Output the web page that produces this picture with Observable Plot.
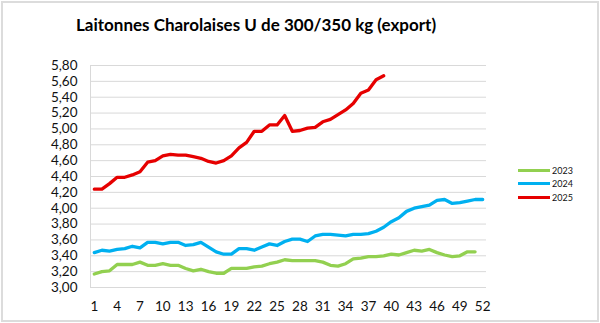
<!DOCTYPE html>
<html>
<head>
<meta charset="utf-8">
<script src="https://cdn.jsdelivr.net/npm/d3@7"></script>
<script src="https://cdn.jsdelivr.net/npm/@observablehq/plot@0.6"></script>
<style>
  html, body { margin: 0; padding: 0; background: #fff; }
  #wrap { position: relative; width: 600px; height: 323px; overflow: hidden; font-family: Lato, "Open Sans", sans-serif; }
  #frame { position: absolute; left: 1px; top: 1px; width: 594px; height: 317px; border: 2px solid #dcdcdc; pointer-events: none; }
  #title { position: absolute; left: 76px; top: 14px; font-size: 17px; font-weight: bold; color: #000; white-space: nowrap; }
  #legend { position: absolute; left: 518px; top: 164px; font-size: 9px; color: #111; }
  .item { display: flex; align-items: center; height: 13.3px; }
  .sw { width: 32px; height: 3px; margin-right: 2px; }
  svg { position: absolute; left: 0; top: 0; }
</style>
</head>
<body>
<div id="wrap">
  <div id="title">Laitonnes Charolaises U de 300/350 kg (export)</div>
  <div id="legend"></div>
  <div id="frame"></div>
</div>
<script>
const titleText = "Laitonnes Charolaises U de 300/350 kg (export)";
const seriesNames = ["2023", "2024", "2025"];
const seriesColors = ["#92d050", "#00b0f0", "#e60000"];
const xTicks = [1, 4, 7, 10, 13, 16, 19, 22, 25, 28, 31, 34, 37, 40, 43, 46, 49, 52];
const yTicks = [3.0, 3.2, 3.4, 3.6, 3.8, 4.0, 4.2, 4.4, 4.6, 4.8, 5.0, 5.2, 5.4, 5.6, 5.8];

const values2023 = [3.17, 3.20, 3.21, 3.29, 3.29, 3.29, 3.32, 3.28, 3.28, 3.30,
  3.28, 3.28, 3.24, 3.21, 3.23, 3.20, 3.18, 3.18, 3.24, 3.24,
  3.24, 3.26, 3.27, 3.30, 3.32, 3.35, 3.34, 3.34, 3.34, 3.34,
  3.32, 3.28, 3.27, 3.30, 3.36, 3.37, 3.39, 3.39, 3.40, 3.42,
  3.41, 3.44, 3.47, 3.46, 3.48, 3.44, 3.41, 3.39, 3.40, 3.45, 3.45];
const values2024 = [3.44, 3.47, 3.46, 3.48, 3.49, 3.52, 3.50, 3.57, 3.57, 3.55,
  3.57, 3.57, 3.53, 3.54, 3.57, 3.51, 3.45, 3.42, 3.42, 3.49,
  3.49, 3.47, 3.51, 3.55, 3.53, 3.58, 3.61, 3.61, 3.58, 3.65,
  3.67, 3.67, 3.66, 3.65, 3.67, 3.67, 3.68, 3.71, 3.76, 3.83,
  3.88, 3.96, 4.00, 4.02, 4.04, 4.10, 4.11, 4.06, 4.07, 4.09, 4.11, 4.11];
const values2025 = [4.24, 4.24, 4.31, 4.39, 4.39, 4.42, 4.46, 4.58, 4.60, 4.66,
  4.68, 4.67, 4.67, 4.65, 4.63, 4.59, 4.57, 4.60, 4.66, 4.76,
  4.83, 4.97, 4.97, 5.05, 5.05, 5.17, 4.97, 4.98, 5.01, 5.02,
  5.09, 5.12, 5.18, 5.24, 5.32, 5.45, 5.49, 5.62, 5.67];

const allValues = [values2023, values2024, values2025];
const rows = [];
allValues.forEach((vals, i) => vals.forEach((v, j) => rows.push({week: j + 1, value: v, series: seriesNames[i]})));

const fmt = d => d.toFixed(2).replace(".", ",");

const chart = Plot.plot({
  width: 600,
  height: 323,
  marginLeft: 90,
  marginRight: 114,
  marginTop: 65,
  marginBottom: 36,
  style: {fontFamily: "Lato, 'Open Sans', sans-serif", fontSize: "13.5px", color: "#111", background: "transparent"},
  x: {domain: [0.5, 52.5], ticks: xTicks, tickSize: 0, tickPadding: 14, tickFormat: d => String(d), label: null},
  y: {domain: [3, 5.8], ticks: yTicks, tickSize: 0, tickPadding: 13, tickFormat: fmt, label: null},
  color: {domain: seriesNames, range: seriesColors},
  marks: [
    Plot.gridY(yTicks, {stroke: "#d9d9d9", strokeOpacity: 1, strokeWidth: 1}),
    Plot.ruleX([0.5], {stroke: "#d9d9d9", strokeWidth: 1}),
    Plot.axisX({ticks: xTicks, tickSize: 0, tickPadding: 14, tickFormat: d => String(d), label: null, fontSize: 13.5}),
    Plot.axisY({ticks: yTicks, tickSize: 0, tickPadding: 13, tickFormat: fmt, label: null, fontSize: 13.5}),
    Plot.line(rows, {x: "week", y: "value", z: "series", stroke: "series", strokeWidth: 3.3, strokeLinejoin: "round", strokeLinecap: "round"})
  ]
});
document.getElementById("wrap").insertBefore(chart, document.getElementById("title"));

const legend = document.getElementById("legend");
seriesNames.forEach((name, i) => {
  const item = document.createElement("div");
  item.className = "item";
  const sw = document.createElement("div");
  sw.className = "sw";
  sw.style.background = seriesColors[i];
  const label = document.createElement("span");
  label.textContent = name;
  item.appendChild(sw);
  item.appendChild(label);
  legend.appendChild(item);
});
</script>
</body>
</html>
